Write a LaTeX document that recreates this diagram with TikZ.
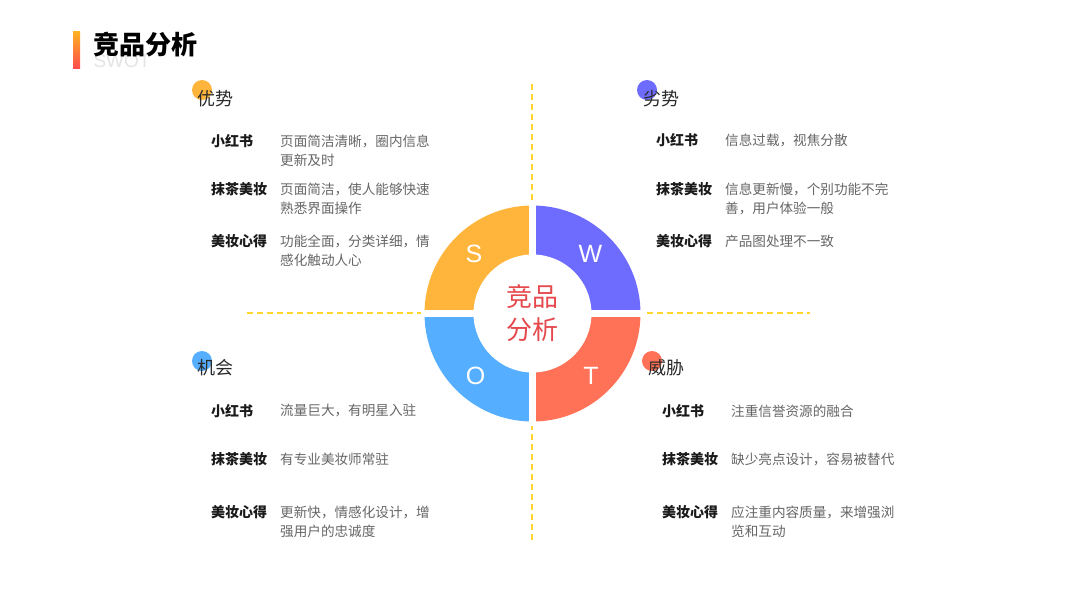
\documentclass[tikz,border=0pt]{standalone}
\usepackage{fontspec}
\setmainfont{Noto Sans CJK SC}
\newfontfamily\latinsans{Liberation Sans}
\definecolor{cS}{HTML}{FFB43B}
\definecolor{cW}{HTML}{6E6BFF}
\definecolor{cO}{HTML}{55AEFF}
\definecolor{cT}{HTML}{FF7257}
\definecolor{dashc}{HTML}{FFD52E}
\definecolor{redtxt}{HTML}{E5484D}
\definecolor{desctxt}{HTML}{666666}
\definecolor{lbltxt}{HTML}{1A1A1A}
\definecolor{headtxt}{HTML}{2A2A2A}
\definecolor{swotgrey}{HTML}{E4E4E4}
\definecolor{barTop}{HTML}{FFB320}
\definecolor{barBot}{HTML}{FF4D4D}
\tikzset{
  guide/.style={draw=dashc, line width=1.8pt, dash pattern=on 6pt off 4pt},
  dotmark/.style={circle, minimum size=20pt, inner sep=0pt},
  headtext/.style={font=\fontsize{18}{20}\selectfont, text=headtxt, anchor=west, inner sep=0pt},
  lbltext/.style={font=\bfseries\fontsize{14}{19}\selectfont, text=lbltxt, anchor=west, inner sep=0pt},
  desctext/.style={font=\fontsize{13.6}{19}\selectfont, text=desctxt, anchor=west, align=left, inner sep=0pt},
  desctwo/.style={font=\fontsize{13.6}{19}\selectfont, text=desctxt, anchor=north west, align=left, inner sep=0pt},
  ringletter/.style={font=\latinsans\fontsize{25}{25}\selectfont, text=white, inner sep=0pt},
}
\begin{document}
\begin{tikzpicture}[x=1pt, y=-1pt]
\path[use as bounding box, fill=white] (0,0) rectangle (1066,600);

% title
\shade[top color=barTop, bottom color=barBot] (73,31) rectangle (80,68);
\node[font=\latinsans\fontsize{19}{19}\selectfont, text=swotgrey, inner sep=0pt] (swot) at (122,61) {SWOT};
\node[font=\bfseries\fontsize{26}{28}\selectfont, text=black, inner sep=0pt] (title) at (145,45) {竞品分析};

% guides
\coordinate (vtop) at (532.3,84);
\coordinate (vbot) at (532.3,543);
\coordinate (hl) at (247,313.3);
\coordinate (hr) at (810,313.3);
\draw[guide] (vtop) -- (vbot);
\draw[guide] (hl) -- (hr);

% ring
\begin{scope}[shift={(532.5,313.5)}, y=1pt]
  \fill[white] (0,0) circle[radius=110];
  \fill[cS] (0,0) -- (180:108) arc[start angle=180, end angle=90, radius=108] -- cycle;
  \fill[cW] (0,0) -- (90:108) arc[start angle=90, end angle=0, radius=108] -- cycle;
  \fill[cO] (0,0) -- (180:108) arc[start angle=180, end angle=270, radius=108] -- cycle;
  \fill[cT] (0,0) -- (270:108) arc[start angle=270, end angle=360, radius=108] -- cycle;
  \draw[white, line width=6.5pt] (-112,0) -- (112,0);
  \draw[white, line width=6.5pt] (0,-112) -- (0,112);
  \fill[white] (0,0) circle[radius=59];
\end{scope}
\node[ringletter] (S) at (474,254) {S};
\node[ringletter] (W) at (590.5,254) {W};
\node[ringletter] (O) at (475.5,376) {O};
\node[ringletter] (T) at (591,376) {T};
\node[font=\fontsize{26}{33.5}\selectfont, text=redtxt, align=center, inner sep=0pt] (center) at (532.5,313) {竞品\\分析};

% quadrant markers
\node[dotmark, fill=cS] (dS) at (202,90) {};
\node[dotmark, fill=cW] (dW) at (647,90) {};
\node[dotmark, fill=cO] (dO) at (202,361) {};
\node[dotmark, fill=cT] (dT) at (652,361) {};
\node[headtext] (hS) at (197,98.5) {优势};
\node[headtext] (hW) at (643,98.5) {劣势};
\node[headtext] (hO) at (197,368) {机会};
\node[headtext] (hT) at (648,368) {威胁};

% S
\node[lbltext] (s1) at (211,141) {小红书};
\node[desctwo] (s1d) at (280,134.5) {页面简洁清晰，圈内信息\\更新及时};
\node[lbltext] (s2) at (211,189) {抹茶美妆};
\node[desctwo] (s2d) at (280,182.5) {页面简洁，使人能够快速\\熟悉界面操作};
\node[lbltext] (s3) at (211,241) {美妆心得};
\node[desctwo] (s3d) at (280,234.5) {功能全面，分类详细，情\\感化触动人心};

% W
\node[lbltext] (w1) at (656,140) {小红书};
\node[desctext] (w1d) at (725,140) {信息过载，视焦分散};
\node[lbltext] (w2) at (656,189) {抹茶美妆};
\node[desctwo] (w2d) at (725,182.5) {信息更新慢，个别功能不完\\善，用户体验一般};
\node[lbltext] (w3) at (656,241) {美妆心得};
\node[desctext] (w3d) at (725,241) {产品图处理不一致};

% O
\node[lbltext] (o1) at (211,411) {小红书};
\node[desctext] (o1d) at (280,411) {流量巨大，有明星入驻};
\node[lbltext] (o2) at (211,459) {抹茶美妆};
\node[desctext] (o2d) at (280,459) {有专业美妆师常驻};
\node[lbltext] (o3) at (211,512) {美妆心得};
\node[desctwo] (o3d) at (280,505.5) {更新快，情感化设计，增\\强用户的忠诚度};

% T
\node[lbltext] (t1) at (662,411) {小红书};
\node[desctext] (t1d) at (731,411) {注重信誉资源的融合};
\node[lbltext] (t2) at (662,459) {抹茶美妆};
\node[desctext] (t2d) at (731,459) {缺少亮点设计，容易被替代};
\node[lbltext] (t3) at (662,512) {美妆心得};
\node[desctwo] (t3d) at (731,505.5) {应注重内容质量，来增强浏\\览和互动};
\end{tikzpicture}
\end{document}
